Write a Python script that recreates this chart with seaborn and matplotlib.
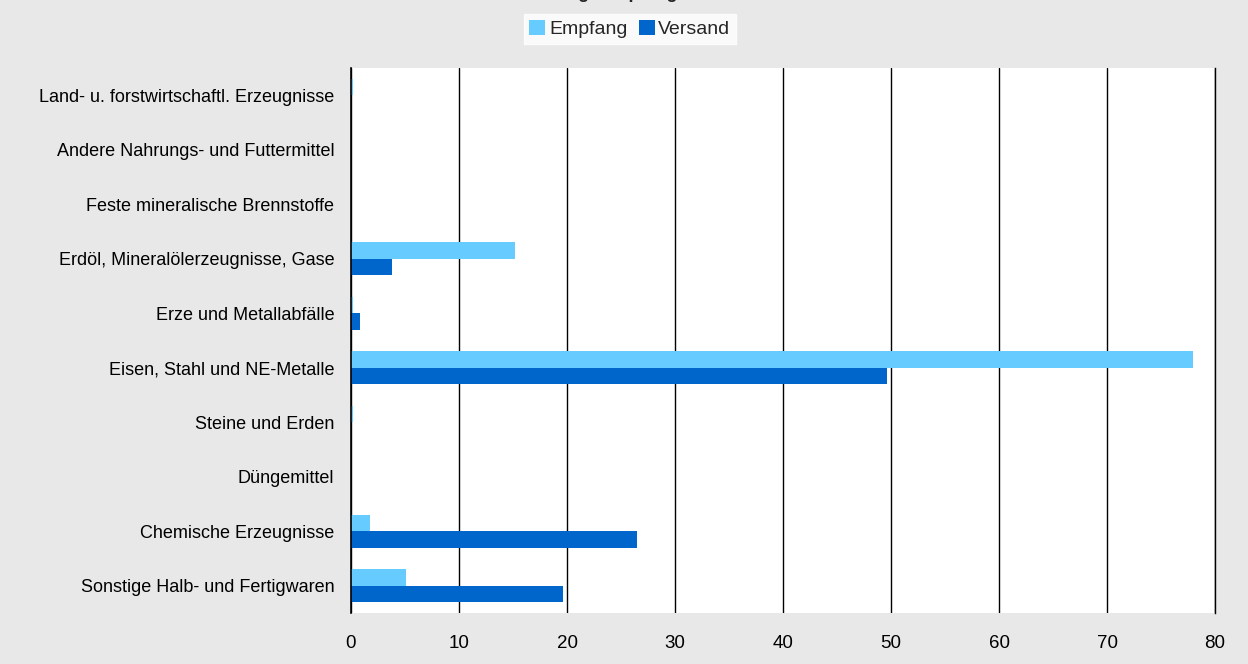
import pandas as pd
import matplotlib
matplotlib.use('Agg')
import matplotlib.pyplot as plt
import seaborn as sns

# categories and values (million t)
categories = ['Land- u. forstwirtschaftl. Erzeugnisse',
              'Andere Nahrungs- und Futtermittel',
              'Feste mineralische Brennstoffe',
              'Erdöl, Mineralölerzeugnisse, Gase',
              'Erze und Metallabfälle',
              'Eisen, Stahl und NE-Metalle',
              'Steine und Erden',
              'Düngemittel',
              'Chemische Erzeugnisse',
              'Sonstige Halb- und Fertigwaren']
empfang = [0.15, 0, 0, 15.2, 0.15, 78.0, 0.15, 0, 1.75, 5.1]
versand = [0, 0, 0, 3.8, 0.85, 49.6, 0, 0, 26.5, 19.6]
x_ticks = [0, 10, 20, 30, 40, 50, 60, 70, 80]

df = pd.DataFrame({'Kategorie': categories * 2,
                   'Wert': empfang + versand,
                   'Art': ['Empfang'] * len(categories) + ['Versand'] * len(categories)})

sns.set_style('white')
plt.rcParams['font.family'] = ['Liberation Sans', 'DejaVu Sans']

fig = plt.figure(figsize=(12.48, 6.64), dpi=100, facecolor='#e8e8e8')
ax = fig.add_axes([351 / 1248, 1 - 613 / 664, 864 / 1248, 545 / 664])
ax.set_facecolor('white')

palette = {'Empfang': '#66ccff', 'Versand': '#0066cc'}
sns.barplot(data=df, y='Kategorie', x='Wert', hue='Art', palette=palette,
            orient='h', width=0.6, gap=0, saturation=1, linewidth=0, ax=ax)

ax.set_xlim(0, 80)
ax.set_xticks(x_ticks)
ax.set_ylim(len(categories) - 0.5, -0.5)
ax.grid(axis='x', color='black', linewidth=1)
ax.set_axisbelow(True)
for s in ['top', 'bottom']:
    ax.spines[s].set_visible(False)
ax.spines['left'].set_color('black')
ax.spines['left'].set_linewidth(1.2)
ax.spines['right'].set_color('black')
ax.spines['right'].set_linewidth(1)
ax.tick_params(axis='both', length=0, colors='black')
ax.tick_params(axis='y', pad=12, labelsize=13)
ax.tick_params(axis='x', pad=16, labelsize=13.5)
ax.set_xlabel('')
ax.set_ylabel('')

ax.legend(loc='center', bbox_to_anchor=(630 / 1248, 1 - 29 / 664),
          bbox_transform=fig.transFigure, ncol=2, frameon=True, fancybox=False,
          edgecolor='white', facecolor='white', fontsize=14,
          handlelength=0.8, handleheight=0.8, handletextpad=0.2,
          columnspacing=0.6, borderpad=0.3, borderaxespad=0)

# title, mostly cut off at top edge (as in the source image)
fig.text(0.5, 1 + 2 / 664, 'Güterumschlag: Empfang und Versand', ha='center',
         va='baseline', fontsize=13, fontweight='bold')

fig.savefig('out.png', dpi=100, facecolor=fig.get_facecolor())
